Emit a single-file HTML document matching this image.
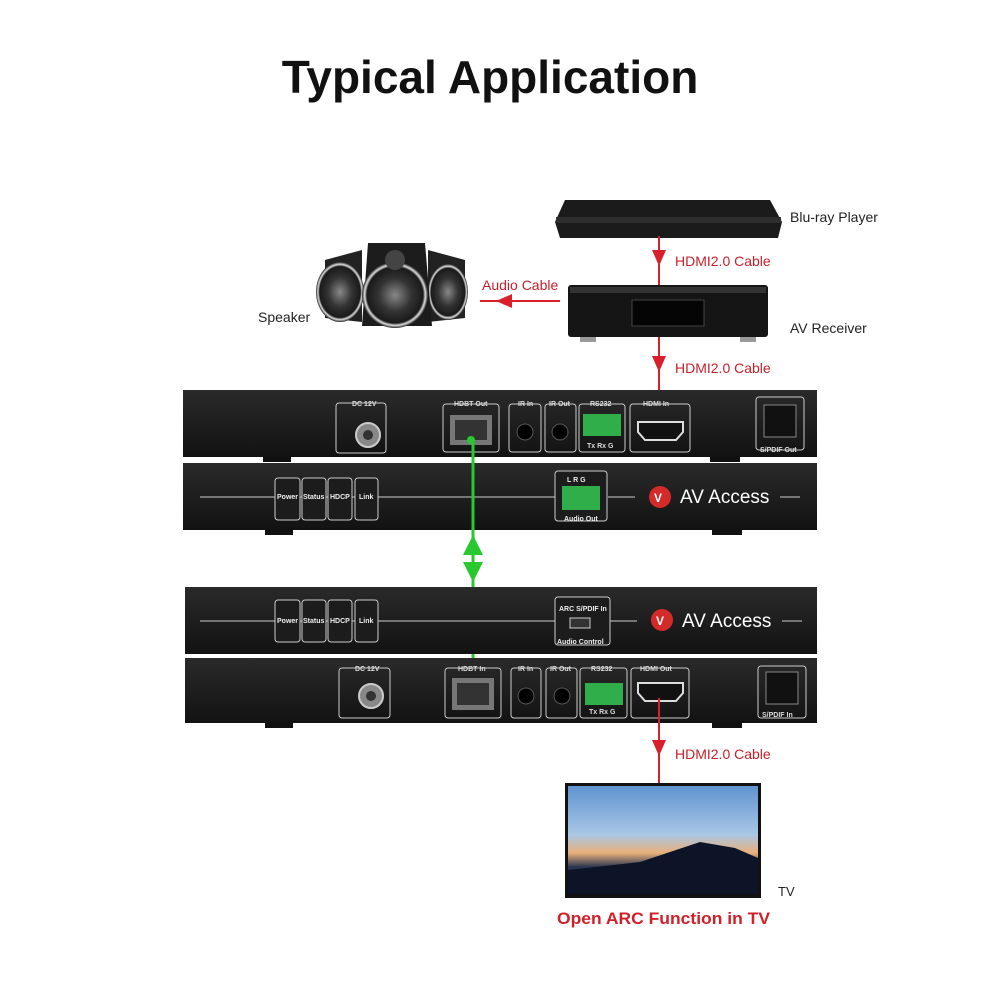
<!DOCTYPE html>
<html><head><meta charset="utf-8"><style>
html,body{margin:0;padding:0;background:#fff}
svg{display:block}
</style></head><body>
<svg width="1000" height="1000" viewBox="0 0 1000 1000" xmlns="http://www.w3.org/2000/svg" font-family="Liberation Sans, sans-serif">
<defs>
<linearGradient id="blk" x1="0" y1="0" x2="0" y2="1"><stop offset="0" stop-color="#2a2a2a"/><stop offset="1" stop-color="#121212"/></linearGradient>
<linearGradient id="sky" x1="0" y1="0" x2="0" y2="1"><stop offset="0" stop-color="#5f93cf"/><stop offset="0.45" stop-color="#a9c7e6"/><stop offset="0.62" stop-color="#e9b07a"/><stop offset="0.75" stop-color="#2a3550"/><stop offset="1" stop-color="#0e1630"/></linearGradient>
<radialGradient id="spk" cx="0.5" cy="0.5" r="0.5"><stop offset="0" stop-color="#888"/><stop offset="0.5" stop-color="#333"/><stop offset="0.85" stop-color="#1a1a1a"/><stop offset="0.92" stop-color="#ddd"/><stop offset="1" stop-color="#222"/></radialGradient>
</defs>
<text x="490" y="93" text-anchor="middle" font-size="46" font-weight="bold" fill="#111">Typical Application</text>

<!-- Blu-ray -->
<path d="M565 200 L770 200 L782 222 L778 238 L560 238 L555 222 Z" fill="#1b1b1b"/>
<rect x="556" y="217" width="225" height="6" fill="#2e2e2e"/>
<text x="790" y="222" font-size="14" fill="#222">Blu-ray Player</text>
<!-- arrow 1 -->
<line x1="659" y1="236" x2="659" y2="290" stroke="#d9202a" stroke-width="2"/>
<path d="M652 250 L666 250 L659 266 Z" fill="#d9202a"/>
<text x="675" y="266" font-size="14" fill="#c8202a">HDMI2.0 Cable</text>
<!-- AV receiver -->
<rect x="568" y="285" width="200" height="52" rx="3" fill="#151515"/>
<rect x="570" y="287" width="196" height="6" fill="#333"/>
<rect x="632" y="300" width="72" height="26" fill="#050505" stroke="#444"/>
<rect x="580" y="337" width="16" height="5" fill="#999"/><rect x="740" y="337" width="16" height="5" fill="#999"/>
<text x="790" y="333" font-size="14" fill="#222">AV Receiver</text>
<!-- audio cable -->
<line x1="480" y1="301" x2="560" y2="301" stroke="#d9202a" stroke-width="2"/>
<path d="M512 294 L512 308 L496 301 Z" fill="#d9202a"/>
<text x="482" y="290" font-size="14" fill="#c8202a">Audio Cable</text>
<!-- speakers -->
<path d="M325 260 L362 250 L362 322 L325 318 Z" fill="#222"/>
<path d="M428 250 L465 260 L465 318 L428 322 Z" fill="#222"/>
<ellipse cx="340" cy="292" rx="24" ry="30" fill="url(#spk)"/>
<ellipse cx="448" cy="292" rx="20" ry="28" fill="url(#spk)"/>
<path d="M368 243 L425 243 L432 326 L362 326 Z" fill="#1c1c1c"/>
<circle cx="395" cy="295" r="33" fill="url(#spk)"/>
<circle cx="395" cy="260" r="10" fill="#444"/>
<text x="258" y="322" font-size="14" fill="#222">Speaker</text>

<!-- arrow 2 -->
<line x1="659" y1="337" x2="659" y2="428" stroke="#d9202a" stroke-width="2"/>
<path d="M652 356 L666 356 L659 372 Z" fill="#d9202a"/>
<circle cx="659" cy="428" r="4" fill="#d9202a"/>
<text x="675" y="373" font-size="14" fill="#c8202a">HDMI2.0 Cable</text>

<!-- Device 1 rear -->
<rect x="183" y="390" width="634" height="67" fill="url(#blk)"/>
<rect x="263" y="457" width="28" height="5" fill="#111"/><rect x="710" y="457" width="30" height="5" fill="#111"/>
<g fill="none" stroke="#ccc" stroke-width="1">
<rect x="336" y="403" width="50" height="50" rx="3"/>
<rect x="443" y="404" width="56" height="48" rx="3"/>
<rect x="509" y="404" width="32" height="48" rx="3"/>
<rect x="545" y="404" width="31" height="48" rx="3"/>
<rect x="579" y="404" width="46" height="48" rx="3"/>
<rect x="630" y="404" width="60" height="48" rx="3"/>
<rect x="756" y="397" width="48" height="53" rx="3"/>
</g>
<g font-size="7" fill="#ddd" font-weight="bold">
<text x="352" y="406">DC 12V</text><text x="454" y="406">HDBT Out</text><text x="518" y="406">IR In</text><text x="549" y="406">IR Out</text><text x="590" y="406">RS232</text><text x="643" y="406">HDMI In</text><text x="760" y="452">S/PDIF Out</text>
<text x="587" y="448">Tx Rx G</text></g>
<circle cx="368" cy="435" r="12" fill="#888" stroke="#ccc" stroke-width="2"/><circle cx="368" cy="435" r="5" fill="#333"/>
<rect x="450" y="415" width="42" height="30" fill="#777"/><rect x="455" y="420" width="32" height="20" fill="#333"/>
<circle cx="525" cy="432" r="8" fill="#000" stroke="#555"/><circle cx="560" cy="432" r="8" fill="#000" stroke="#555"/>
<rect x="583" y="414" width="38" height="22" fill="#2fae4a"/>
<path d="M638 422 L683 422 L683 432 L676 440 L645 440 L638 432 Z" fill="#111" stroke="#ddd" stroke-width="2"/>
<rect x="764" y="405" width="32" height="32" fill="#111" stroke="#888"/>

<!-- Device 1 front -->
<rect x="183" y="463" width="634" height="67" fill="url(#blk)"/>
<rect x="265" y="530" width="28" height="5" fill="#111"/><rect x="712" y="530" width="30" height="5" fill="#111"/>
<line x1="200" y1="497" x2="556" y2="497" stroke="#ccc"/><line x1="608" y1="497" x2="635" y2="497" stroke="#ccc"/><line x1="780" y1="497" x2="800" y2="497" stroke="#ccc"/>
<g fill="#1c1c1c" stroke="#ccc"><rect x="275" y="478" width="25" height="42" rx="3"/><rect x="302" y="478" width="24" height="42" rx="3"/><rect x="328" y="478" width="24" height="42" rx="3"/><rect x="355" y="478" width="23" height="42" rx="3"/><rect x="555" y="471" width="52" height="50" rx="3"/></g>
<g font-size="7" fill="#eee" font-weight="bold"><text x="277" y="499">Power</text><text x="303" y="499">Status</text><text x="330" y="499">HDCP</text><text x="359" y="499">Link</text><text x="567" y="482">L  R  G</text><text x="564" y="521">Audio Out</text></g>
<rect x="562" y="486" width="38" height="24" fill="#2fae4a"/>
<circle cx="660" cy="497" r="11" fill="#d42a2a"/><text x="654" y="502" font-size="12" fill="#fff" font-weight="bold">V</text>
<text x="680" y="503" font-size="19" fill="#fff">AV Access</text>

<!-- green link -->
<line x1="473" y1="440" x2="473" y2="677" stroke="#27c92e" stroke-width="3"/>
<circle cx="471" cy="440" r="4" fill="#27c92e"/><circle cx="471" cy="677" r="4" fill="#27c92e"/>
<path d="M463 555 L483 555 L473 535 Z M463 562 L483 562 L473 582 Z" fill="#27c92e"/>

<!-- Device 2 front -->
<rect x="185" y="587" width="632" height="67" fill="url(#blk)"/>
<line x1="200" y1="621" x2="556" y2="621" stroke="#ccc"/><line x1="610" y1="621" x2="637" y2="621" stroke="#ccc"/><line x1="782" y1="621" x2="802" y2="621" stroke="#ccc"/>
<g fill="#1c1c1c" stroke="#ccc"><rect x="275" y="600" width="25" height="42" rx="3"/><rect x="302" y="600" width="24" height="42" rx="3"/><rect x="328" y="600" width="24" height="42" rx="3"/><rect x="355" y="600" width="23" height="42" rx="3"/><rect x="555" y="597" width="55" height="48" rx="3"/></g>
<g font-size="7" fill="#eee" font-weight="bold"><text x="277" y="623">Power</text><text x="303" y="623">Status</text><text x="330" y="623">HDCP</text><text x="359" y="623">Link</text><text x="559" y="611">ARC  S/PDIF In</text><text x="557" y="644">Audio Control</text></g>
<rect x="570" y="618" width="20" height="10" fill="#333" stroke="#ccc"/>
<circle cx="662" cy="620" r="11" fill="#d42a2a"/><text x="656" y="625" font-size="12" fill="#fff" font-weight="bold">V</text>
<text x="682" y="627" font-size="19" fill="#fff">AV Access</text>

<!-- Device 2 rear -->
<rect x="185" y="658" width="632" height="65" fill="url(#blk)"/>
<rect x="265" y="723" width="28" height="5" fill="#111"/><rect x="712" y="723" width="30" height="5" fill="#111"/>
<g fill="none" stroke="#ccc" stroke-width="1">
<rect x="339" y="668" width="51" height="50" rx="3"/>
<rect x="445" y="668" width="56" height="50" rx="3"/>
<rect x="511" y="668" width="30" height="50" rx="3"/>
<rect x="546" y="668" width="31" height="50" rx="3"/>
<rect x="580" y="668" width="47" height="50" rx="3"/>
<rect x="631" y="668" width="58" height="50" rx="3"/>
<rect x="758" y="666" width="48" height="52" rx="3"/>
</g>
<g font-size="7" fill="#ddd" font-weight="bold">
<text x="355" y="671">DC 12V</text><text x="458" y="671">HDBT In</text><text x="518" y="671">IR In</text><text x="550" y="671">IR Out</text><text x="591" y="671">RS232</text><text x="640" y="671">HDMI Out</text><text x="762" y="717">S/PDIF In</text>
<text x="589" y="714">Tx Rx G</text></g>
<circle cx="371" cy="696" r="12" fill="#888" stroke="#ccc" stroke-width="2"/><circle cx="371" cy="696" r="5" fill="#333"/>
<rect x="452" y="678" width="42" height="32" fill="#777"/><rect x="457" y="683" width="32" height="22" fill="#333"/>
<circle cx="526" cy="696" r="8" fill="#000" stroke="#555"/><circle cx="562" cy="696" r="8" fill="#000" stroke="#555"/>
<rect x="585" y="683" width="38" height="22" fill="#2fae4a"/>
<path d="M638 683 L683 683 L683 693 L676 701 L645 701 L638 693 Z" fill="#111" stroke="#ddd" stroke-width="2"/>
<rect x="766" y="672" width="32" height="32" fill="#111" stroke="#888"/>

<!-- arrow 3 -->
<line x1="659" y1="698" x2="659" y2="785" stroke="#d9202a" stroke-width="2"/>
<path d="M652 740 L666 740 L659 756 Z" fill="#d9202a"/>
<text x="675" y="759" font-size="14" fill="#c8202a">HDMI2.0 Cable</text>

<!-- TV -->
<rect x="565" y="783" width="196" height="115" fill="#111"/>
<rect x="568" y="786" width="190" height="108" fill="url(#sky)"/>
<path d="M568 870 L640 862 L700 842 L735 848 L758 858 L758 894 L568 894 Z" fill="#0d1428"/>
<text x="778" y="896" font-size="13" fill="#222">TV</text>
<text x="557" y="924" font-size="17" font-weight="bold" fill="#d0202a" textLength="213" lengthAdjust="spacingAndGlyphs">Open ARC Function in TV</text>
</svg>
</body></html>
